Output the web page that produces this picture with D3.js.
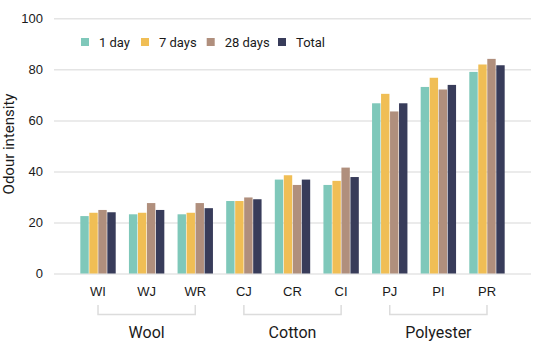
<!DOCTYPE html>
<html>
<head>
<meta charset="utf-8">
<script src="https://cdn.jsdelivr.net/npm/d3@7"></script>
<style>
  html, body { margin: 0; padding: 0; background: #fff; }
  svg { display: block; font-family: Roboto, "Noto Sans", sans-serif; }
</style>
</head>
<body>
<svg id="chart" width="534" height="350"></svg>
<script>
const categories = ["WI", "WJ", "WR", "CJ", "CR", "CI", "PJ", "PI", "PR"];
const seriesNames = ["1 day", "7 days", "28 days", "Total"];
const day1   = [22.5, 23.2, 23.2, 28.4, 36.8, 34.7, 66.7, 73.1, 79.0];
const days7  = [23.8, 23.8, 23.8, 28.4, 38.5, 36.3, 70.4, 76.7, 81.9];
const days28 = [24.9, 27.6, 27.6, 29.8, 34.7, 41.5, 63.5, 72.1, 84.1];
const total  = [24.0, 24.9, 25.6, 29.1, 36.8, 37.8, 66.7, 73.9, 81.6];
const groups = [
  { name: "Wool", members: ["WI", "WJ", "WR"] },
  { name: "Cotton", members: ["CJ", "CR", "CI"] },
  { name: "Polyester", members: ["PJ", "PI", "PR"] }
];
const yTicks = [0, 20, 40, 60, 80, 100];
const colors = ["#7fc8ba", "#f0be55", "#b08f7d", "#383c5a"];

const seriesValues = [day1, days7, days28, total];
const svg = d3.select("#chart");

const y = d3.scaleLinear().domain([0, 100]).range([273.5, 18.3]);
const x = d3.scaleBand().domain(categories).range([73.7, 511.3])
  .paddingInner(0.26).paddingOuter(0.13);
const xs = d3.scaleBand().domain(seriesNames).range([0, x.bandwidth()]).padding(0);
const color = d3.scaleOrdinal().domain(seriesNames).range(colors);

// gridlines
const yAxis = d3.axisLeft(y).tickValues(yTicks).tickSize(-(531 - 54)).tickPadding(11);
const gy = svg.append("g").attr("transform", "translate(54,0)").call(yAxis);
gy.select(".domain").remove();
gy.selectAll(".tick line").attr("stroke", "#e4e4e4").attr("stroke-width", 1.5);
gy.selectAll(".tick text").attr("fill", "#1a1a1a").attr("font-size", 13).attr("font-weight", 500);

// bars
const data = [];
categories.forEach((c, i) => {
  seriesNames.forEach((s, j) => data.push({ cat: c, series: s, value: seriesValues[j][i] }));
});
svg.append("g").selectAll("rect").data(data).join("rect")
  .attr("x", d => x(d.cat) + xs(d.series) + 0.3)
  .attr("width", xs.bandwidth() - 0.6)
  .attr("y", d => y(d.value))
  .attr("height", d => y(0) - y(d.value))
  .attr("fill", d => color(d.series));

// x axis labels
const xAxis = d3.axisBottom(x).tickSize(0).tickPadding(13);
const gx = svg.append("g").attr("transform", "translate(0,273.5)").call(xAxis);
gx.select(".domain").remove();
gx.selectAll(".tick text").attr("fill", "#1a1a1a").attr("font-size", 13).attr("font-weight", 500);

// group brackets
const gg = svg.append("g");
groups.forEach(g => {
  const x0 = x(g.members[0]) + x.bandwidth() / 2;
  const x1 = x(g.members[g.members.length - 1]) + x.bandwidth() / 2;
  gg.append("path")
    .attr("d", `M${x0},305V314.5H${x1}V305`)
    .attr("fill", "none").attr("stroke", "#dcdcdc").attr("stroke-width", 1.5);
  gg.append("text").attr("x", (x0 + x1) / 2).attr("y", 337.5)
    .attr("text-anchor", "middle").attr("font-size", 16).attr("fill", "#1a1a1a")
    .text(g.name);
});

// y axis title
svg.append("text")
  .attr("transform", "translate(14,144) rotate(-90)")
  .attr("text-anchor", "middle").attr("font-size", 15).attr("fill", "#1a1a1a")
  .text("Odour intensity");

// legend
const legendX = [81, 141, 206.7, 278];
const lg = svg.append("g");
seriesNames.forEach((s, i) => {
  lg.append("rect").attr("x", legendX[i]).attr("y", 38).attr("width", 8).attr("height", 8)
    .attr("fill", color(s));
  lg.append("text").attr("x", legendX[i] + 18).attr("y", 46.5)
    .attr("font-size", 13).attr("fill", "#1a1a1a").text(s);
});
</script>
</body>
</html>
